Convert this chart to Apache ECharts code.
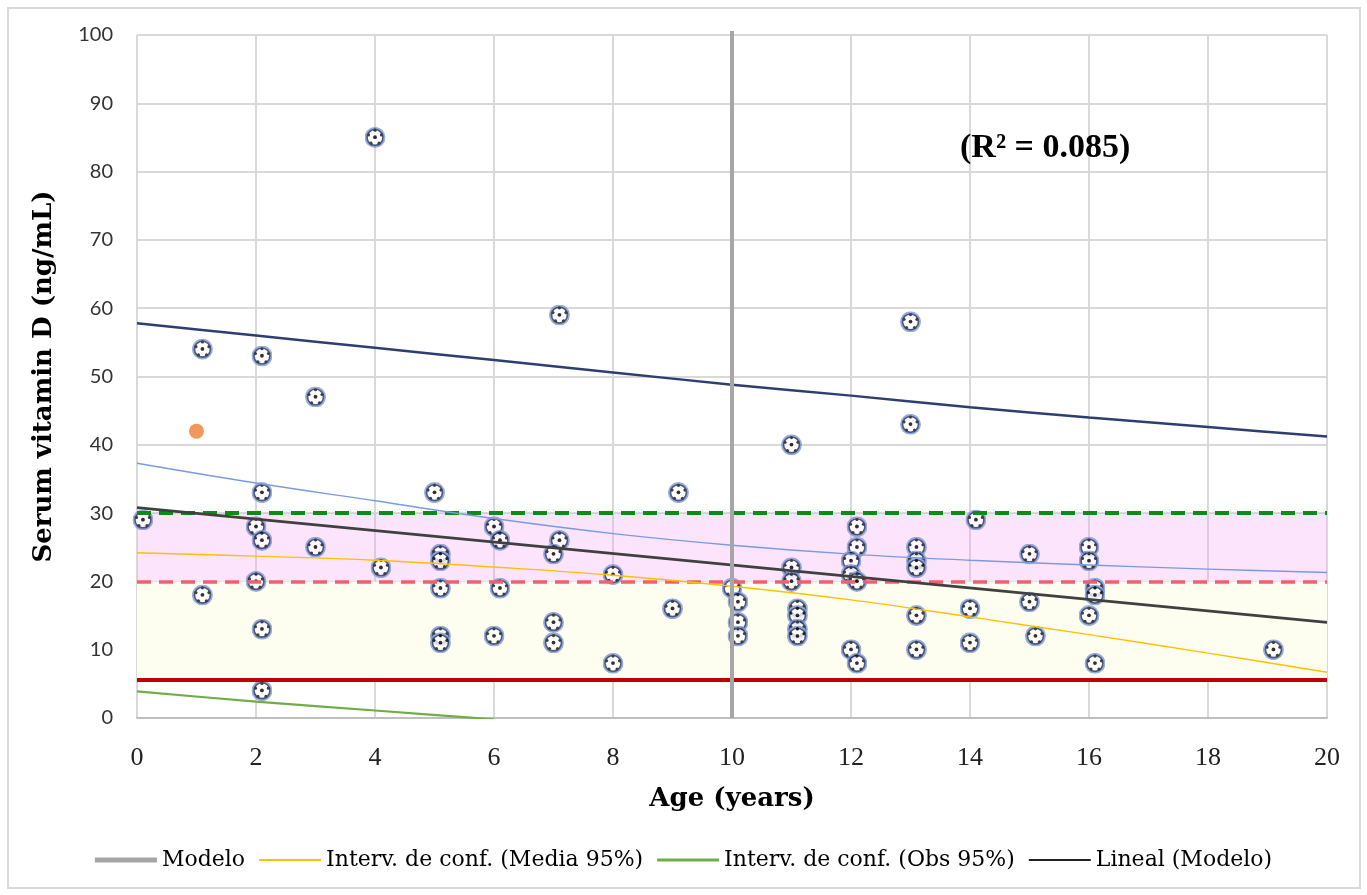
<!DOCTYPE html>
<html>
<head>
<meta charset="utf-8">
<script src="https://cdn.jsdelivr.net/npm/echarts@6/dist/echarts.min.js"></script>
<style>
html,body{margin:0;padding:0;background:#fff;}
#c{width:1367px;height:895px;}
</style>
</head>
<body>
<div id="c"></div>
<script>
// ---- data ----
var ages   = [0.1,1.1,1.1,2.1,2.1,2.0,2.1,2.0,2.1,2.1,3.0,3.0,4.0,4.1,5.0,5.1,5.1,5.1,5.1,5.1,6.0,6.1,6.1,6.0,7.1,7.1,7.0,7.0,7.0,8.0,8.0,9.1,9.0,10.0,10.1,10.1,10.1,11.0,11.0,11.0,11.1,11.1,11.1,11.1,12.1,12.1,12.0,12.0,12.1,12.0,12.1,13.0,13.0,13.1,13.1,13.1,13.1,13.1,14.1,14.0,14.0,15.0,15.0,15.1,16.0,16.0,16.1,16.1,16.0,16.1,19.1];
var vitD   = [29,54,18,53,33,28,26,20,13,4,47,25,85,22,33,24,23,19,12,11,28,26,19,12,59,26,24,14,11,21,8,33,16,19,17,14,12,40,22,20,16,15,13,12,28,25,23,21,20,10,8,58,43,25,23,22,15,10,29,16,11,24,17,12,25,23,19,18,15,8,10];
var highlightAge = [1.0];
var highlightVal = [42];

var curveX       = [0,2,4,6,8,10,12,14,16,18,20];
var upperObs     = [57.8,56.0,54.2,52.4,50.6,48.8,47.2,45.5,44.0,42.6,41.2];
var upperMean    = [37.3,34.4,31.8,29.2,27.0,25.3,24.0,23.1,22.4,21.8,21.3];
var lowerMean    = [24.2,23.7,23.1,22.1,20.9,19.3,17.3,14.8,12.2,9.5,6.7];
var lowerObsX    = [0,2,4,6];
var lowerObs     = [3.9,2.4,1.1,-0.2];
var fitX         = [0,20];
var fitY         = [30.8,14.0];
var modeloX      = [10,10];
var modeloY      = [0,100.6];
var refSufficient = 30, refInsufficient = 20, refDeficient = 5.6;
var xTicks = [0,2,4,6,8,10,12,14,16,18,20];
var yTicks = [0,10,20,30,40,50,60,70,80,90,100];
var r2Text = '(R\u00B2 = 0.085)';

function zip(a,b){return a.map(function(v,i){return [v,b[i]];});}

var ballSvg = "<svg xmlns='http://www.w3.org/2000/svg' width='42' height='42' viewBox='0 0 42 42'>" +
  "<circle cx='21' cy='21' r='19' fill='#ffffff' stroke='#7f9ad6' stroke-width='4'/>" +
  "<circle cx='21' cy='21' r='16' fill='#ffffff' stroke='#1f3068' stroke-width='3.4'/>" +
  "<circle cx='21' cy='20.5' r='3.8' fill='#000'/>" +
  "<circle cx='21' cy='6.5' r='3.2' fill='#111'/>" +
  "<circle cx='34' cy='16' r='3.2' fill='#111'/>" +
  "<circle cx='29' cy='32.5' r='3.2' fill='#111'/>" +
  "<circle cx='13' cy='32.5' r='3.2' fill='#111'/>" +
  "<circle cx='8' cy='16' r='3.2' fill='#111'/>" +
  "</svg>";
var ballSymbol = 'image://data:image/svg+xml;charset=utf-8,' + encodeURIComponent(ballSvg);

var serif = '"Liberation Serif","Times New Roman",serif';
var wideSerif = '"DejaVu Serif","Liberation Serif",serif';
var chart = echarts.init(document.getElementById('c'), null, {renderer:'canvas'});

chart.setOption({
  animation:false,
  backgroundColor:'#ffffff',
  graphic:[{
    type:'rect', shape:{x:8,y:8,width:1352,height:880},
    style:{fill:'none',stroke:'#d9d9d9',lineWidth:2}, z:-10, silent:true
  },{
    type:'text', left:960, top:131,
    style:{text:r2Text, font:'bold 34px '+serif, fill:'#000'}, z:100
  }],
  grid:{left:137,right:40,top:35,bottom:177},
  xAxis:{
    type:'value', min:0, max:20, interval:2,
    name:'Age (years)', nameLocation:'middle', nameGap:68,
    nameTextStyle:{fontFamily:wideSerif,fontWeight:'bold',fontSize:26,color:'#000'},
    axisLine:{show:true,lineStyle:{color:'#bfbfbf',width:2}},
    axisTick:{show:false},
    axisLabel:{fontFamily:serif,fontSize:26,color:'#222',margin:27,
      formatter:function(v){return xTicks.indexOf(v)>=0?String(v):'';}},
    splitLine:{show:true,lineStyle:{color:'#d9d9d9',width:2}}
  },
  yAxis:{
    type:'value', min:0, max:100, interval:10,
    name:'Serum vitamin D (ng/mL)', nameLocation:'middle', nameGap:80, nameRotate:90,
    nameTextStyle:{fontFamily:wideSerif,fontWeight:'bold',fontSize:26,color:'#000'},
    axisLine:{show:false},
    axisTick:{show:false},
    axisLabel:{fontFamily:'Lato,"Open Sans",sans-serif',fontSize:20,color:'#333',margin:24,
      formatter:function(v){return yTicks.indexOf(v)>=0?String(v):'';}},
    splitLine:{show:true,lineStyle:{color:'#d9d9d9',width:2}}
  },
  legend:{
    top:844, left:'center', itemWidth:62, itemHeight:6, itemGap:14,
    textStyle:{fontFamily:wideSerif,fontSize:22,color:'#000'},
    data:[
      {name:'Modelo', icon:'path://M0,0H12V1H0Z'},
      {name:'Interv. de conf. (Media 95%)', icon:'path://M0,0H31V1H0Z'},
      {name:'Interv. de conf. (Obs 95%)', icon:'path://M0,0H20V1H0Z'},
      {name:'Lineal (Modelo)', icon:'path://M0,0H31V1H0Z'}
    ]
  },
  series:[
    {name:'bandYellow', type:'line', data:[], z:1, silent:true,
      markArea:{silent:true, itemStyle:{color:'#fefef0'},
        data:[[{yAxis:refDeficient},{yAxis:refInsufficient}]]}},
    {name:'Datos', type:'scatter', data:zip(ages,vitD), symbol:ballSymbol, symbolSize:21, z:2},
    {name:'Interv. de conf. (Media 95%)', type:'line', data:zip(curveX,lowerMean), smooth:0.4,
      showSymbol:false, z:5, color:'#ffc000', lineStyle:{color:'#ffc000',width:1.4}},
    {name:'upperMean', type:'line', data:zip(curveX,upperMean), smooth:0.4,
      showSymbol:false, z:5, color:'#7a9be0', lineStyle:{color:'#7a9be0',width:1.4}},
    {name:'Interv. de conf. (Obs 95%)', type:'line', data:zip(lowerObsX,lowerObs), smooth:0.3,
      showSymbol:false, z:5, color:'#70ad47', lineStyle:{color:'#70ad47',width:2.2}},
    {name:'upperObs', type:'line', data:zip(curveX,upperObs), smooth:0.3,
      showSymbol:false, z:5, color:'#2e3e72', lineStyle:{color:'#2e3e72',width:2.5}},
    {name:'Lineal (Modelo)', type:'line', data:zip(fitX,fitY),
      showSymbol:false, z:6, color:'#222222', lineStyle:{color:'#404040',width:2.8}},
    {name:'Modelo', type:'line', data:zip(modeloX,modeloY), clip:false,
      showSymbol:false, z:6, color:'#a6a6a6', lineStyle:{color:'#a6a6a6',width:4}},
    {name:'bandPink', type:'line', data:[], z:10, silent:true,
      markArea:{silent:true, itemStyle:{color:'rgba(245,160,245,0.27)'},
        data:[[{yAxis:refInsufficient},{yAxis:refSufficient}]]}},
    {name:'refs', type:'line', data:[], z:11, silent:true,
      markLine:{silent:true, symbol:['none','none'], label:{show:false},
        data:[
          {yAxis:refSufficient, lineStyle:{color:'#0e8a16',width:4,type:[14,8]}},
          {yAxis:refInsufficient, lineStyle:{color:'#f0606e',width:3.5,type:[14,8]}},
          {yAxis:refDeficient, lineStyle:{color:'#c00000',width:4,type:'solid'}}
        ]}},
    {name:'highlight', type:'scatter', data:zip(highlightAge,highlightVal), symbol:'circle',
      symbolSize:15, z:12, itemStyle:{color:'#ed7d31'}}
  ]
});
</script>
</body>
</html>
